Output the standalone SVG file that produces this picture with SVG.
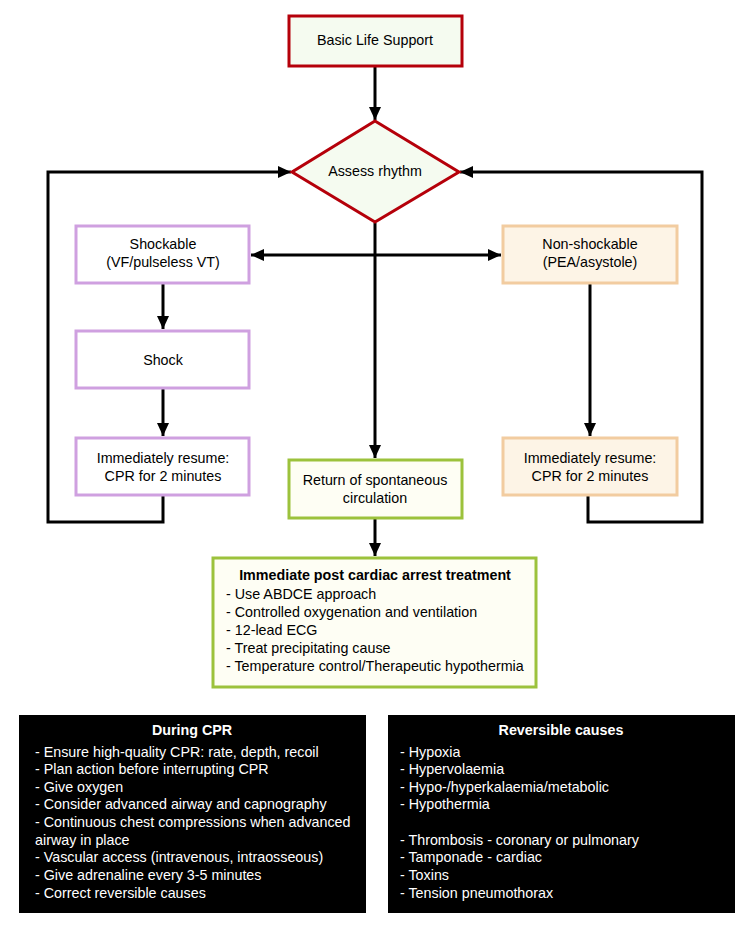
<svg xmlns="http://www.w3.org/2000/svg" width="750" height="927" viewBox="0 0 750 927">
<style>
text{font-family:"Liberation Sans",Arial,sans-serif;font-size:14.3px;fill:#000}
.c{text-anchor:middle}
.b{font-weight:bold}
.w{fill:#fff}
.red{fill:#f5fbf0;stroke:#b5000a;stroke-width:3}
.pur{fill:#fff;stroke:#cfa0e0;stroke-width:3}
.org{fill:#fdf4e6;stroke:#f2cca0;stroke-width:3}
.grn{fill:#fefef4;stroke:#9cc23c;stroke-width:3}
.blk{fill:#000}
.ln{fill:none;stroke:#000;stroke-width:3}
</style>
<defs>
<marker id="ah" markerUnits="userSpaceOnUse" markerWidth="14" markerHeight="14" viewBox="0 0 14 14" refX="13" refY="7" orient="auto-start-reverse">
<path d="M0,1 L13,7 L0,13 Z" fill="#000"/>
</marker>
</defs>
<g id="connectors">
<line class="ln" x1="375" y1="66" x2="375" y2="120" marker-end="url(#ah)"/>
<line class="ln" x1="375" y1="223" x2="375" y2="458" marker-end="url(#ah)"/>
<line class="ln" x1="251" y1="255" x2="501" y2="255" marker-start="url(#ah)" marker-end="url(#ah)"/>
<line class="ln" x1="163" y1="283" x2="163" y2="329" marker-end="url(#ah)"/>
<line class="ln" x1="163" y1="388" x2="163" y2="436" marker-end="url(#ah)"/>
<line class="ln" x1="590" y1="283" x2="590" y2="436" marker-end="url(#ah)"/>
<line class="ln" x1="375" y1="518" x2="375" y2="556" marker-end="url(#ah)"/>
<polyline class="ln" points="163,495 163,522 48,522 48,172 291,172" marker-end="url(#ah)"/>
<polyline class="ln" points="588,495 588,522 702,522 702,172 460,172" marker-end="url(#ah)"/>
</g>
<g id="bls">
<rect class="red" x="289" y="16" width="173" height="50"/>
<text class="c" x="375" y="45">Basic Life Support</text>
</g>
<g id="assess">
<polygon class="red" points="375,121 459,172 375,222 292,172"/>
<text class="c" x="375" y="176">Assess rhythm</text>
</g>
<g id="shockable">
<rect class="pur" x="76" y="226" width="173" height="57"/>
<text class="c" x="163" y="249">Shockable</text>
<text class="c" x="163" y="267">(VF/pulseless VT)</text>
</g>
<g id="nonshockable">
<rect class="org" x="503" y="226" width="174" height="57"/>
<text class="c" x="590" y="249">Non-shockable</text>
<text class="c" x="590" y="267">(PEA/asystole)</text>
</g>
<g id="shock">
<rect class="pur" x="76" y="331" width="173" height="57"/>
<text class="c" x="163" y="365">Shock</text>
</g>
<g id="resume-left">
<rect class="pur" x="76" y="438" width="173" height="57"/>
<text class="c" x="163" y="463">Immediately resume:</text>
<text class="c" x="163" y="481">CPR for 2 minutes</text>
</g>
<g id="resume-right">
<rect class="org" x="503" y="438" width="174" height="57"/>
<text class="c" x="590" y="463">Immediately resume:</text>
<text class="c" x="590" y="481">CPR for 2 minutes</text>
</g>
<g id="rosc">
<rect class="grn" x="289" y="460" width="173" height="58"/>
<text class="c" x="375" y="485">Return of spontaneous</text>
<text class="c" x="375" y="503">circulation</text>
</g>
<g id="post">
<rect class="grn" x="213" y="558" width="323" height="129"/>
<text class="c b" x="375" y="580">Immediate post cardiac arrest treatment</text>
<text x="226" y="599">- Use ABDCE approach</text>
<text x="226" y="617">- Controlled oxygenation and ventilation</text>
<text x="226" y="635">- 12-lead ECG</text>
<text x="226" y="653">- Treat precipitating cause</text>
<text x="226" y="671">- Temperature control/Therapeutic hypothermia</text>
</g>
<g id="during-cpr">
<rect class="blk" x="19" y="715" width="347" height="198"/>
<text class="c b w" x="192" y="735">During CPR</text>
<text class="w" x="35" y="757">- Ensure high-quality CPR: rate, depth, recoil</text>
<text class="w" x="35" y="774">- Plan action before interrupting CPR</text>
<text class="w" x="35" y="792">- Give oxygen</text>
<text class="w" x="35" y="809">- Consider advanced airway and capnography</text>
<text class="w" x="35" y="827">- Continuous chest compressions when advanced</text>
<text class="w" x="35" y="845">airway in place</text>
<text class="w" x="35" y="862">- Vascular access (intravenous, intraosseous)</text>
<text class="w" x="35" y="880">- Give adrenaline every 3-5 minutes</text>
<text class="w" x="35" y="898">- Correct reversible causes</text>
</g>
<g id="reversible-causes">
<rect class="blk" x="388" y="715" width="347" height="198"/>
<text class="c b w" x="561" y="735">Reversible causes</text>
<text class="w" x="400" y="757">- Hypoxia</text>
<text class="w" x="400" y="774">- Hypervolaemia</text>
<text class="w" x="400" y="792">- Hypo-/hyperkalaemia/metabolic</text>
<text class="w" x="400" y="809">- Hypothermia</text>
<text class="w" x="400" y="845">- Thrombosis - coronary or pulmonary</text>
<text class="w" x="400" y="862">- Tamponade - cardiac</text>
<text class="w" x="400" y="880">- Toxins</text>
<text class="w" x="400" y="898">- Tension pneumothorax</text>
</g>
</svg>
